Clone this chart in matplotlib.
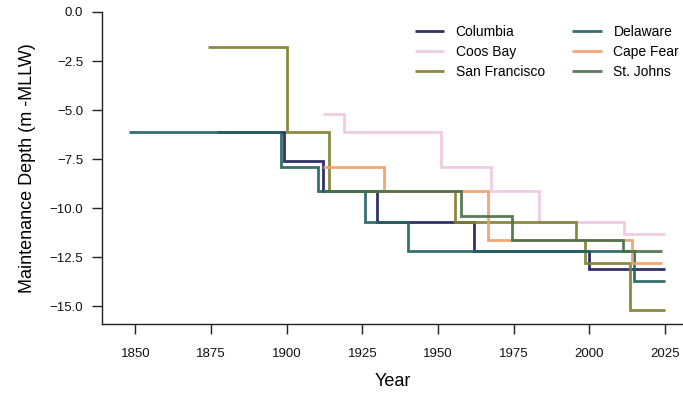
import numpy as np
import matplotlib
matplotlib.use("Agg")
from matplotlib import pyplot as plt

plt.rcParams['font.family'] = ['Liberation Sans', 'DejaVu Sans']

# channel maintenance depth histories (year of change, depth in m below MLLW)
names = ["Columbia", "Coos Bay", "San Francisco", "Delaware", "Cape Fear", "St. Johns"]
colors = ["#1f1f5c", "#efc7df", "#808030", "#246464", "#f49e6c", "#4a704a"]

columbia_yr = [1877, 1899, 1912, 1930, 1962, 2000, 2025]
columbia_d = [-6.1, -7.6, -9.1, -10.7, -12.2, -13.1, -13.1]

coos_yr = [1912, 1919, 1951, 1967.5, 1983.5, 2011.5, 2025]
coos_d = [-5.2, -6.1, -7.9, -9.1, -10.7, -11.3, -11.3]

sanfran_yr = [1874, 1900, 1914, 1955.5, 1995.5, 1998.5, 2013.5, 2025]
sanfran_d = [-1.8, -6.1, -9.1, -10.7, -11.6, -12.8, -15.2, -15.2]

delaware_yr = [1848, 1898, 1910.5, 1926, 1940, 2014.6, 2025]
delaware_d = [-6.1, -7.9, -9.1, -10.7, -12.2, -13.7, -13.7]

capefear_yr = [1912, 1932, 1966.5, 2014, 2024]
capefear_d = [-7.9, -9.1, -11.6, -12.8, -12.8]

stjohns_yr = [1912.5, 1957.5, 1974.5, 2011, 2024]
stjohns_d = [-9.1, -10.4, -11.6, -12.2, -12.2]

series = [(columbia_yr, columbia_d), (coos_yr, coos_d), (sanfran_yr, sanfran_d),
          (delaware_yr, delaware_d), (capefear_yr, capefear_d), (stjohns_yr, stjohns_d)]

xticks = [1850, 1875, 1900, 1925, 1950, 1975, 2000, 2025]
yticks = [0.0, -2.5, -5.0, -7.5, -10.0, -12.5, -15.0]

fig = plt.figure(figsize=(6.83, 3.93), dpi=100)
ax = fig.add_axes([0.1493, 0.1756, 0.851, 0.794])

for name, col, (yr, d) in zip(names, colors, series):
    ax.step(yr, d, where='post', color=col, lw=2.0, alpha=0.92,
            solid_capstyle='butt', solid_joinstyle='miter', label=name)

ax.set_xlim(1839, 2031)
ax.set_ylim(-15.9, 0)
ax.set_xticks(xticks)
ax.set_yticks(yticks)
ax.spines['top'].set_visible(False)
ax.spines['right'].set_visible(False)
for s in ['left', 'bottom']:
    ax.spines[s].set_linewidth(1.0)
    ax.spines[s].set_color('#222222')
ax.tick_params(axis='both', direction='out', length=7.5, width=1.0,
               color='#222222', labelsize=9.5, labelcolor='#111111')
ax.tick_params(axis='x', pad=10)
ax.tick_params(axis='y', pad=6)

ax.set_xlabel("Year", fontsize=13, labelpad=9)
ax.set_ylabel("Maintenance Depth (m -MLLW)", fontsize=13, labelpad=10)

ax.legend(ncol=2, frameon=False, fontsize=10, handlelength=2.15,
          handletextpad=0.8, columnspacing=2.0, labelspacing=0.45,
          borderpad=0, borderaxespad=0, loc='upper left',
          bbox_to_anchor=(0.607, 0.937), bbox_transform=fig.transFigure)

fig.savefig("out.png", dpi=100)
